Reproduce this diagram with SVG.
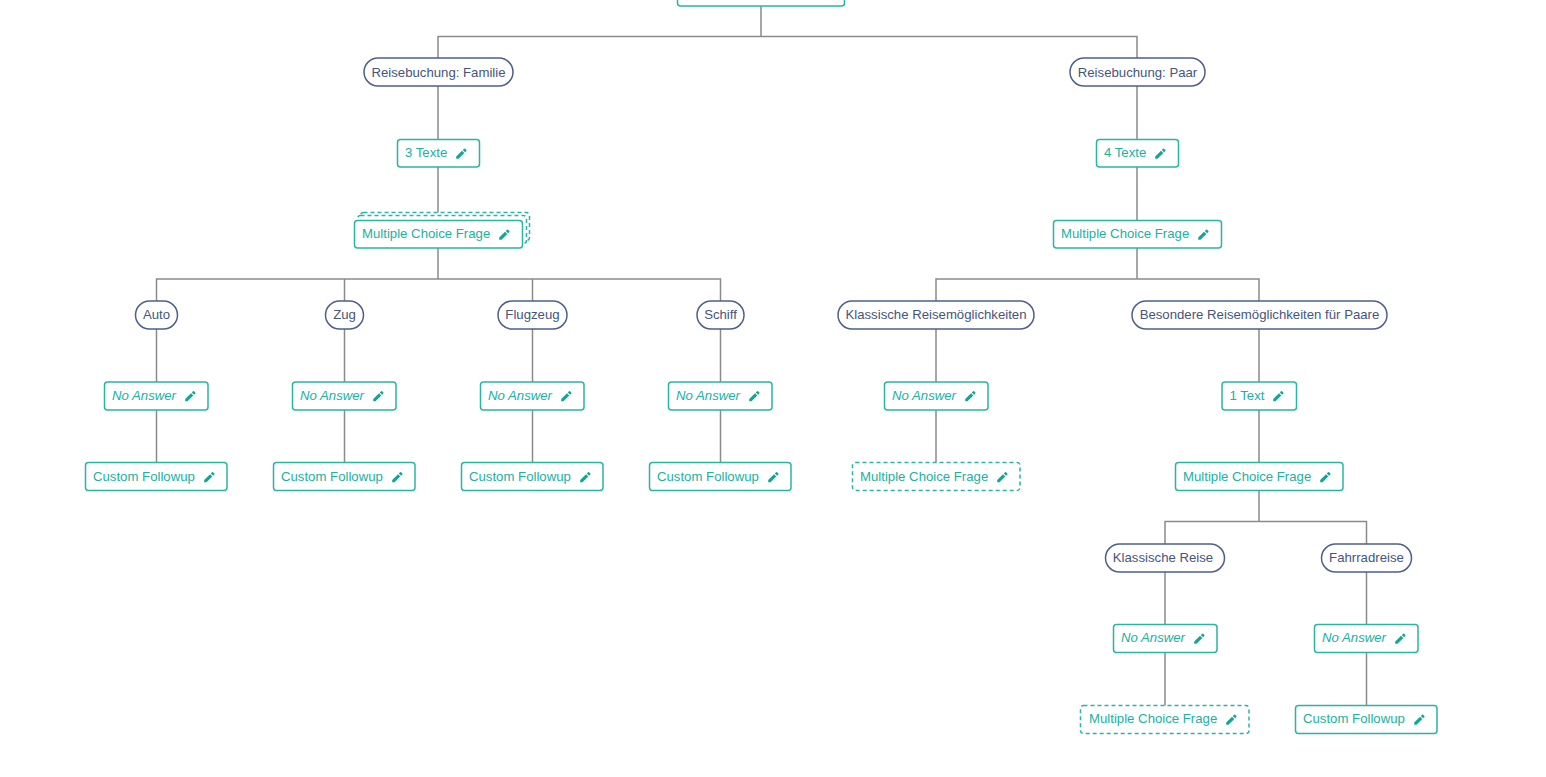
<svg xmlns="http://www.w3.org/2000/svg" width="1546" height="777" viewBox="0 0 1546 777">
<style>
text{font-family:"Liberation Sans",Arial,sans-serif;font-size:13.2px}
.c{fill:none;stroke:#8a8a8a;stroke-width:1.5}
.p{fill:#fff;stroke:#4f5f88;stroke-width:1.5}
.pt{fill:#45557c;text-anchor:middle}
.b{fill:#fff;stroke:#2ab5a3;stroke-width:1.5}
.d{stroke-dasharray:4 3}
.t{fill:#22b0a0}
.i{font-style:italic}
.e{fill:#14a594}
</style>
<defs>
<g id="pen"><path transform="scale(.88)" d="M-6 6v-2.600l6.600-6.600 2.600 2.600-6.600 6.600zM1.500-4.100l1.400-1.400q.6-.6 1.200 0l1.400 1.400q.6.600 0 1.200l-1.400 1.400z"/></g>
</defs>
<rect width="1546" height="777" fill="#fff"/>
<g id="connectors">
<path class="c" d="M761 6V36.500M438 58V36.500H1137V58M438 86V139M438 167V220M438 248V279M156.500 301V279H720.500V301M344.500 279V301M532.500 279V301M156.500 329V382M344.500 329V382M532.500 329V382M720.500 329V382M156.500 410V463M344.500 410V463M532.500 410V463M720.500 410V463"/>
<path class="c" d="M1137 86V139M1137 167V220M1137 248V279M936 301V279H1259V301M936 329V382M936 410V463M1259 329V382M1259 410V463M1259 491V521.500M1165 544V521.500H1366.500V544M1165 572V625M1165 653V706M1366.500 572V625M1366.500 653V706"/>
</g>
<g id="root"><rect class="b" x="677.500" y="-24" width="167" height="30" rx="3"/></g>
<g id="n-familie"><rect class="p" x="364" y="58" width="149" height="28" rx="14"/><text class="pt" x="438.500" y="76.500">Reisebuchung: Familie</text></g>
<g id="n-paar"><rect class="p" x="1070" y="58" width="135" height="28" rx="14"/><text class="pt" x="1137.500" y="76.500">Reisebuchung: Paar</text></g>
<g id="n-3texte"><rect class="b" x="397.500" y="139.500" width="82" height="27.500" rx="3"/><text class="t" x="405" y="157">3 Texte</text><use href="#pen" class="e" x="461.500" y="153.500"/></g>
<g id="n-4texte"><rect class="b" x="1096.500" y="139.500" width="82" height="27.500" rx="3"/><text class="t" x="1104" y="157">4 Texte</text><use href="#pen" class="e" x="1160.500" y="153.500"/></g>
<g id="n-mc-familie">
<rect class="b d" x="360.500" y="212.500" width="169" height="28" rx="3"/>
<rect class="b d" x="357.500" y="215.500" width="169" height="28" rx="3"/>
<rect class="b" x="354.500" y="220.500" width="168" height="27.500" rx="3"/><text class="t" x="362" y="238">Multiple Choice Frage</text><use href="#pen" class="e" x="504.500" y="234.500"/></g>
<g id="n-mc-paar"><rect class="b" x="1053.500" y="220.500" width="168" height="27.500" rx="3"/><text class="t" x="1061" y="238">Multiple Choice Frage</text><use href="#pen" class="e" x="1203.500" y="234.500"/></g>
<g id="n-auto"><rect class="p" x="135.500" y="301" width="42" height="28" rx="14"/><text class="pt" x="156.500" y="319">Auto</text></g>
<g id="n-zug"><rect class="p" x="325.500" y="301" width="38" height="28" rx="14"/><text class="pt" x="344.500" y="319">Zug</text></g>
<g id="n-flugzeug"><rect class="p" x="498" y="301" width="69" height="28" rx="14"/><text class="pt" x="532.500" y="319">Flugzeug</text></g>
<g id="n-schiff"><rect class="p" x="697" y="301" width="47" height="28" rx="14"/><text class="pt" x="720.500" y="319">Schiff</text></g>
<g id="n-klassisch"><rect class="p" x="838" y="301" width="196" height="28" rx="14"/><text class="pt" x="936" y="319">Klassische Reisemöglichkeiten</text></g>
<g id="n-besonders"><rect class="p" x="1132" y="301" width="255" height="28" rx="14"/><text class="pt" x="1259.500" y="319">Besondere Reisemöglichkeiten für Paare</text></g>
<g id="n-na1"><rect class="b" x="104.500" y="382" width="103.500" height="28" rx="3"/><text class="t i" x="112" y="399.500">No Answer</text><use href="#pen" class="e" x="190.500" y="396"/></g>
<g id="n-na2"><rect class="b" x="292.500" y="382" width="103.500" height="28" rx="3"/><text class="t i" x="300" y="399.500">No Answer</text><use href="#pen" class="e" x="378.500" y="396"/></g>
<g id="n-na3"><rect class="b" x="480.500" y="382" width="103.500" height="28" rx="3"/><text class="t i" x="488" y="399.500">No Answer</text><use href="#pen" class="e" x="566.500" y="396"/></g>
<g id="n-na4"><rect class="b" x="668.500" y="382" width="103.500" height="28" rx="3"/><text class="t i" x="676" y="399.500">No Answer</text><use href="#pen" class="e" x="754.500" y="396"/></g>
<g id="n-na5"><rect class="b" x="884.500" y="382" width="103.500" height="28" rx="3"/><text class="t i" x="892" y="399.500">No Answer</text><use href="#pen" class="e" x="970.500" y="396"/></g>
<g id="n-1text"><rect class="b" x="1222" y="382" width="74.500" height="28" rx="3"/><text class="t" x="1229.500" y="399.500">1 Text</text><use href="#pen" class="e" x="1278.500" y="396"/></g>
<g id="n-cf1"><rect class="b" x="85.500" y="462.500" width="141.500" height="28" rx="3"/><text class="t" x="93" y="480.500">Custom Followup</text><use href="#pen" class="e" x="209.500" y="477"/></g>
<g id="n-cf2"><rect class="b" x="273.500" y="462.500" width="141.500" height="28" rx="3"/><text class="t" x="281" y="480.500">Custom Followup</text><use href="#pen" class="e" x="397.500" y="477"/></g>
<g id="n-cf3"><rect class="b" x="461.500" y="462.500" width="141.500" height="28" rx="3"/><text class="t" x="469" y="480.500">Custom Followup</text><use href="#pen" class="e" x="585.500" y="477"/></g>
<g id="n-cf4"><rect class="b" x="649.500" y="462.500" width="141.500" height="28" rx="3"/><text class="t" x="657" y="480.500">Custom Followup</text><use href="#pen" class="e" x="773.500" y="477"/></g>
<g id="n-mc-k"><rect class="b d" x="852.500" y="462.500" width="167.500" height="28" rx="3"/><text class="t" x="860" y="480.500">Multiple Choice Frage</text><use href="#pen" class="e" x="1002.500" y="477"/></g>
<g id="n-mc-b"><rect class="b" x="1175.500" y="462.500" width="167.500" height="28" rx="3"/><text class="t" x="1183" y="480.500">Multiple Choice Frage</text><use href="#pen" class="e" x="1325.500" y="477"/></g>
<g id="n-klreise"><rect class="p" x="1105.500" y="544" width="119" height="28" rx="14"/><text class="pt" x="1163" y="562">Klassische Reise</text></g>
<g id="n-fahrrad"><rect class="p" x="1321.500" y="544" width="90" height="28" rx="14"/><text class="pt" x="1366.500" y="562">Fahrradreise</text></g>
<g id="n-na6"><rect class="b" x="1113.500" y="624.500" width="103.500" height="28" rx="3"/><text class="t i" x="1121" y="642">No Answer</text><use href="#pen" class="e" x="1199.500" y="638.500"/></g>
<g id="n-na7"><rect class="b" x="1314.500" y="624.500" width="103.500" height="28" rx="3"/><text class="t i" x="1322" y="642">No Answer</text><use href="#pen" class="e" x="1400.500" y="638.500"/></g>
<g id="n-mc-kr"><rect class="b d" x="1080.500" y="705.500" width="168.500" height="28" rx="3"/><text class="t" x="1089" y="723">Multiple Choice Frage</text><use href="#pen" class="e" x="1231.500" y="719.500"/></g>
<g id="n-cf5"><rect class="b" x="1295.500" y="705.500" width="141.500" height="28" rx="3"/><text class="t" x="1303" y="723">Custom Followup</text><use href="#pen" class="e" x="1419.500" y="719.500"/></g>
</svg>
